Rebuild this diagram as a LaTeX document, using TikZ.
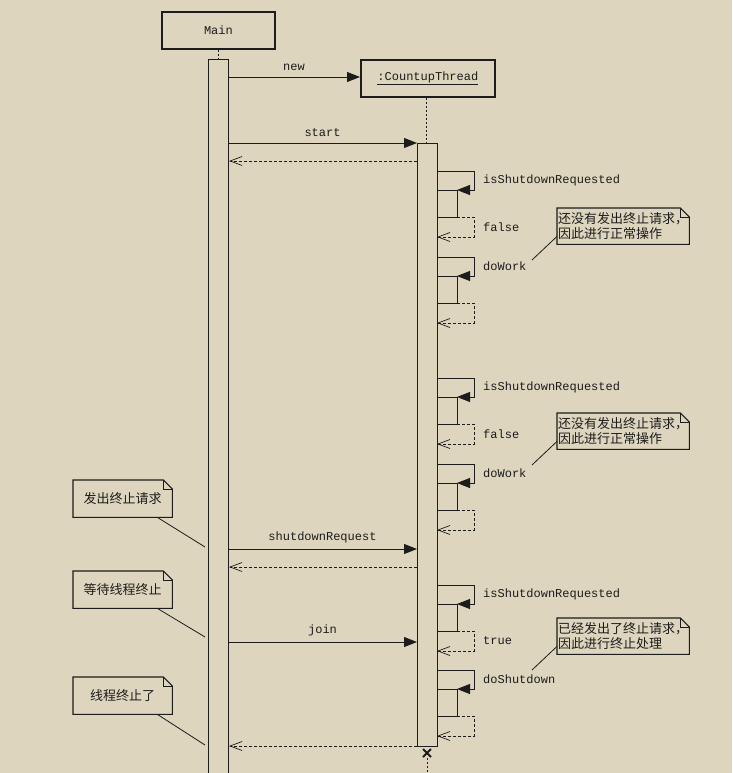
\documentclass[tikz,border=0pt]{standalone}
\usepackage{fontspec}
\setmonofont{Liberation Mono}
\newfontfamily\cjk{Noto Sans CJK SC}
\usetikzlibrary{arrows.meta}
\definecolor{bg}{RGB}{221,213,190}
\definecolor{ink}{RGB}{28,28,28}
\newcommand\noteshape[1]{%
  \draw[notel] (#1.north west) -- ([xshift=-9pt]#1.north east) -- ([yshift=-9pt]#1.north east) -- (#1.south east) -- (#1.south west) -- cycle;
  \draw[notel,line width=0.7pt] ([xshift=-9pt]#1.north east) |- ([yshift=-9pt]#1.north east);}
\begin{document}
\begin{tikzpicture}[x=1pt,y=-1pt,
  lbl/.style={font=\ttfamily\fontsize{12}{14}\selectfont, inner sep=0pt, text=ink},
  objbox/.style={draw=ink, line width=1.8pt, fill=bg, inner sep=0pt, font=\ttfamily\fontsize{12}{14}\selectfont, text=ink},
  actbar/.style={draw=ink, line width=1.1pt, fill=bg},
  life/.style={draw=ink, line width=0.9pt, dash pattern=on 2pt off 2pt},
  msg/.style={draw=ink, line width=0.9pt, -{Triangle[length=13pt,width=10pt]}},
  selfmsg/.style={draw=ink, line width=0.9pt, -{Triangle[length=13pt,width=10pt]}},
  ret/.style={draw=ink, line width=0.9pt, dash pattern=on 3pt off 2pt, -{Straight Barb[length=12pt,width=9pt,line width=0.7pt]}},
  notel/.style={draw=ink, line width=1.1pt},
  notetxt/.style={inner sep=1pt, font=\cjk\fontsize{13}{15.5}\selectfont, text=ink},
  link/.style={draw=ink, line width=0.8pt}]
\fill[bg] (0,0) rectangle (732,773);
\useasboundingbox (0,0) rectangle (732,773);
\clip (0,0) rectangle (732,773);

% objects
\node[objbox, minimum width=113pt, minimum height=37pt, anchor=north west] (main) at (161,11) {Main};
\node[objbox, minimum width=134pt, minimum height=37pt, anchor=north west] (thr) at (360,59) {\underline{:CountupThread}};

% lifelines and activation bars
\coordinate (mtop) at (218,59);
\draw[life] (main.south -| mtop) -- (mtop);
\node[actbar, minimum width=20pt, minimum height=740pt, anchor=north west, inner sep=0pt] (mbar) at (208,59) {};
\coordinate (ttop) at (426,143);
\draw[life] (thr.south -| ttop) -- (ttop);
\node[actbar, minimum width=20pt, minimum height=603pt, anchor=north west, inner sep=0pt] (tbar) at (417,143) {};
\coordinate (xm) at (427,753);
\draw[draw=ink, line width=1.8pt] ([shift={(-4pt,-4pt)}]xm) -- ([shift={(4pt,4pt)}]xm);
\draw[draw=ink, line width=1.8pt] ([shift={(-4pt,4pt)}]xm) -- ([shift={(4pt,-4pt)}]xm);
\coordinate (xend) at (427,773);
\draw[life] ([yshift=-5pt]xm) -- (xend);

% messages Main -> thread
\coordinate (m1) at (228,77);
\draw[msg] (m1) -- (thr.west |- m1) node[lbl, midway, above=6pt] {new};
\coordinate (m2) at (228,143);
\draw[msg] (m2) -- (tbar.west |- m2) node[lbl, midway, above=6pt] {start};
\coordinate (r2) at (417,161);
\draw[ret] (r2) -- (mbar.east |- r2);
\coordinate (m3) at (228,549);
\draw[msg] (m3) -- (tbar.west |- m3) node[lbl, midway, above=6pt] {shutdownRequest};
\coordinate (r3) at (417,567);
\draw[ret] (r3) -- (mbar.east |- r3);
\coordinate (m4) at (228,642);
\draw[msg] (m4) -- (tbar.west |- m4) node[lbl, midway, above=6pt] {join};
\coordinate (r4) at (417,746);
\draw[ret] (r4) -- (mbar.east |- r4);

% self calls
\foreach \yy/\cl/\rl [count=\i] in {171/isShutdownRequested/false, 257/doWork/{}, 378/isShutdownRequested/false, 464/doWork/{}, 585/isShutdownRequested/true, 670/doShutdown/{}} {
  \coordinate (s\i) at (437,\yy);
  \coordinate (t\i) at (457,\yy+19);
  \coordinate (u\i) at (457,\yy+46);
  \coordinate (r\i) at (437,\yy+66);
  \draw[draw=ink, line width=0.9pt] (437,\yy+19) -- (t\i) -- (u\i) -- (437,\yy+46);
  \draw[selfmsg] (s\i) -- ++(37,0) |- (t\i);
  \draw[ret] (u\i) -- ++(17,0) |- (r\i);
  \node[lbl, anchor=west] at (483,\yy+9) {\cl};
  \node[lbl, anchor=west] at (483,\yy+56) {\rl};
}

% right notes
\foreach \ny/\la/\lb [count=\j] in {208/还没有发出终止请求，/因此进行正常操作, 413/还没有发出终止请求，/因此进行正常操作, 618/已经发出了终止请求，/因此进行终止处理} {
  \node[notetxt, minimum width=132pt, minimum height=36pt, text width=130pt, align=left, anchor=north west] (rn\j) at (557,\ny) {\la\\\lb};
  \noteshape{rn\j}
  \coordinate (rl\j) at (532,\ny+52);
  \draw[link] ([yshift=8pt]rn\j.south west) -- (rl\j);
}

% left notes
\foreach \ny/\tx/\ey [count=\k] in {480/发出终止请求/547, 571/等待线程终止/637, 677/线程终止了/745} {
  \node[notetxt, minimum width=99pt, minimum height=37pt, anchor=north west] (ln\k) at (73,\ny) {\tx};
  \noteshape{ln\k}
  \coordinate (ll\k) at (205,\ey);
  \draw[link] ([xshift=-15pt]ln\k.south east) -- (ll\k);
}
\end{tikzpicture}
\end{document}
